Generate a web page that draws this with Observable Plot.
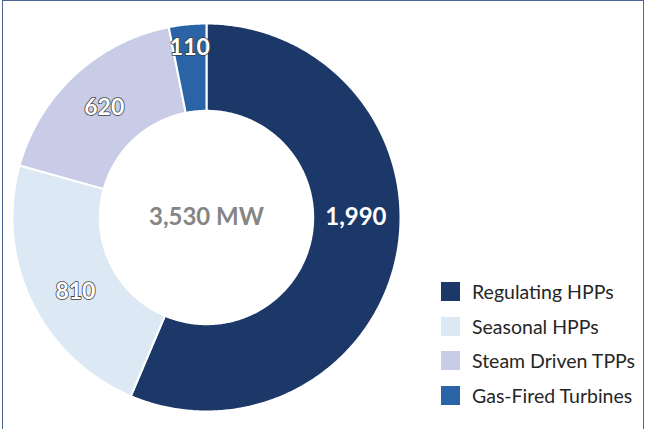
<!DOCTYPE html>
<html>
<head>
<meta charset="utf-8">
<script src="https://cdn.jsdelivr.net/npm/d3@7"></script>
<script src="https://cdn.jsdelivr.net/npm/@observablehq/plot@0.6"></script>
<style>
  html, body { margin: 0; padding: 0; background: #fff; }
  #wrap { position: relative; width: 651px; height: 429px; overflow: hidden; font-family: Lato, "Open Sans", sans-serif; }
  #frame { position: absolute; left: 2px; top: 0px; width: 642px; height: 460px; border: 1.5px solid #4a6794; box-sizing: border-box; pointer-events: none; }
  #legend { position: absolute; left: 441px; top: 282px; }
  .row { display: flex; align-items: center; height: 19px; margin-bottom: 15.7px; }
  .sw { width: 19px; height: 19px; margin-right: 12px; flex: none; }
  .lb { font-size: 19.5px; color: #262626; white-space: nowrap; }
</style>
</head>
<body>
<div id="wrap"><div id="chart"></div><div id="legend"></div><div id="frame"></div></div>
<script>
const categories = ["Regulating HPPs", "Seasonal HPPs", "Steam Driven TPPs", "Gas-Fired Turbines"];
const values = [1990, 810, 620, 110];
const colors = ["#1b3869", "#dde8f5", "#c8cce6", "#2a64a6"];
const centerLabel = "3,530 MW";

const total = d3.sum(values);
const innerRatio = 0.55;

// build slice polygons from the values
const polys = [];
const labels = [];
let acc = 0;
categories.forEach((c, i) => {
  const a0 = acc / total * 2 * Math.PI;
  acc += values[i];
  const a1 = acc / total * 2 * Math.PI;
  const n = Math.max(4, Math.ceil((a1 - a0) / 0.01));
  const pts = [];
  for (let k = 0; k <= n; k++) { const a = a0 + (a1 - a0) * k / n; pts.push({key: c, x: Math.sin(a), y: Math.cos(a)}); }
  for (let k = n; k >= 0; k--) { const a = a0 + (a1 - a0) * k / n; pts.push({key: c, x: innerRatio * Math.sin(a), y: innerRatio * Math.cos(a)}); }
  polys.push(...pts);
  labels.push({key: c, value: values[i], a: (a0 + a1) / 2});
});
// label placement nudges (angle in radians, radius ratio)
const nudge = {"Regulating HPPs": {a: Math.PI / 2, r: 0.77}, "Seasonal HPPs": {a: 4.2}, "Gas-Fired Turbines": {r: 0.88}};
labels.forEach(l => {
  const n = nudge[l.key] || {};
  const a = n.a ?? l.a, r = n.r ?? 0.775;
  l.x = r * Math.sin(a); l.y = r * Math.cos(a);
  l.text = d3.format(",")(l.value);
});
const dark = labels.filter(l => l.key === "Regulating HPPs");
const light = labels.filter(l => l.key !== "Regulating HPPs");

const chart = Plot.plot({
  width: 651, height: 429,
  marginTop: 0, marginRight: 0, marginBottom: 0, marginLeft: 0,
  x: {domain: [-1, 1], range: [12, 400], axis: null},
  y: {domain: [-1, 1], range: [411, 23], axis: null},
  color: {domain: categories, range: colors},
  style: {fontFamily: "Lato, 'Open Sans', sans-serif", background: "transparent"},
  marks: [
    Plot.line(polys, {x: "x", y: "y", z: "key", fill: "key", stroke: "white", strokeWidth: 2, curve: "linear-closed"}),
    Plot.text([centerLabel], {x: [0], y: [0], text: d => d, fill: "#858585", fontSize: 24, fontWeight: "bold"}),
    Plot.text(dark, {x: "x", y: "y", text: "text", fill: "white", fontSize: 24, fontWeight: "bold"}),
    Plot.text(light, {x: "x", y: "y", text: "text", fill: "white", stroke: "#404040", strokeWidth: 1.6, paintOrder: "stroke", fontSize: 23, fontWeight: "bold"})
  ]
});
document.getElementById("chart").appendChild(chart);

const legend = document.getElementById("legend");
categories.forEach((c, i) => {
  const row = document.createElement("div"); row.className = "row";
  const sw = document.createElement("div"); sw.className = "sw"; sw.style.background = colors[i];
  const lb = document.createElement("div"); lb.className = "lb"; lb.textContent = c;
  row.appendChild(sw); row.appendChild(lb); legend.appendChild(row);
});
</script>
</body>
</html>
